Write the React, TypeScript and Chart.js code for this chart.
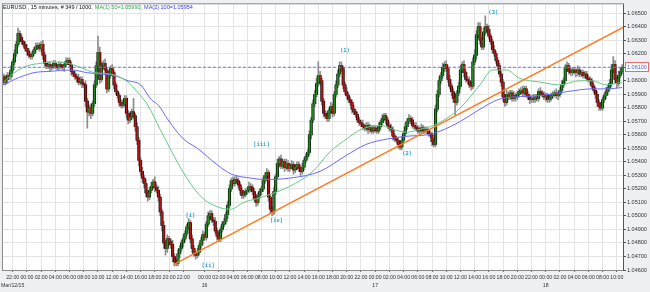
import React, { useEffect, useRef } from "react";
import { Chart, registerables } from "chart.js";

Chart.register(...registerables);

// Prices stored in pips above 1.0000 (e.g. 610 -> 1.0610)
const firstOpen = 603;
const closes = [
  599, 601, 604, 603, 608, 614, 620, 627, 635, 632,
  629, 627, 624, 622, 619, 618, 620, 623, 625, 626,
  624, 627, 619, 613, 611, 612, 610, 611, 613, 611,
  610, 612, 611, 610, 612, 614, 615, 612, 607, 605,
  603, 602, 599, 601, 598, 597, 585, 577, 580, 576,
  583, 597, 611, 621, 601, 611, 613, 608, 594, 604,
  609, 606, 597, 592, 589, 584, 582, 583, 587, 576,
  571, 573, 577, 574, 566, 556, 541, 533, 528, 524,
  517, 514, 519, 522, 525, 521, 519, 514, 503, 493,
  480, 476, 483, 481, 479, 470, 466, 465, 472, 476,
  480, 483, 487, 492, 495, 483, 476, 472, 471, 473,
  478, 482, 486, 484, 494, 500, 502, 497, 496, 489,
  485, 483, 490, 494, 496, 501, 508, 520, 526, 524,
  527, 526, 523, 519, 515, 516, 518, 519, 522, 521,
  518, 513, 510, 515, 518, 520, 526, 530, 532, 514,
  505, 503, 518, 529, 539, 542, 537, 540, 536, 539,
  535, 537, 538, 534, 536, 538, 535, 533, 536, 541,
  544, 547, 560, 571, 583, 590, 598, 604, 600, 585,
  576, 574, 572, 578, 581, 576, 590, 597, 605, 611,
  609, 597, 592, 589, 586, 584, 579, 577, 575, 571,
  569, 568, 566, 565, 567, 564, 565, 563, 565, 564,
  563, 566, 569, 572, 574, 571, 567, 565, 564, 559,
  557, 556, 553, 551, 556, 561, 566, 570, 572, 571,
  567, 566, 565, 563, 564, 565, 563, 564, 563, 561,
  560, 555, 553, 579, 590, 600, 604, 610, 612, 609,
  601, 596, 592, 587, 584, 591, 596, 608, 612, 606,
  601, 600, 597, 596, 614, 619, 634, 640, 630, 625,
  636, 640, 638, 633, 629, 623, 620, 615, 611, 605,
  599, 588, 584, 590, 588, 591, 587, 589, 588, 590,
  592, 593, 591, 594, 590, 588, 586, 587, 586, 588,
  587, 592, 591, 590, 588, 589, 586, 587, 589, 590,
  591, 589, 590, 593, 597, 600, 609, 611, 607, 606,
  608, 607, 606, 608, 605, 606, 604, 605, 602, 601,
  600, 596, 593, 590, 584, 581, 580, 586, 589, 592,
  595, 598, 608, 612, 601, 598, 604, 607, 610,
];
// wick length above the body, in pips
const wickUp = [
  2, 3, 2, 2, 3, 2, 3, 2, 4, 2,
  2, 1, 2, 3, 2, 1, 2, 2, 3, 2,
  2, 2, 3, 2, 1, 2, 2, 1, 2, 2,
  1, 2, 2, 1, 2, 3, 2, 2, 2, 1,
  2, 2, 3, 2, 2, 1, 3, 2, 2, 3,
  2, 3, 3, 12, 4, 3, 2, 3, 2, 3,
  2, 3, 2, 2, 1, 2, 2, 3, 2, 2,
  2, 4, 2, 10, 2, 3, 2, 2, 3, 2,
  3, 2, 2, 3, 2, 4, 2, 3, 2, 2,
  3, 2, 3, 2, 2, 3, 2, 2, 3, 2,
  2, 3, 2, 2, 3, 2, 3, 2, 2, 3,
  2, 2, 3, 2, 2, 3, 2, 2, 2, 3,
  2, 3, 2, 2, 2, 2, 3, 3, 2, 3,
  2, 3, 2, 2, 2, 3, 2, 2, 3, 2,
  2, 2, 3, 2, 2, 2, 3, 2, 3, 2,
  2, 2, 3, 2, 3, 2, 3, 2, 2, 3,
  2, 2, 3, 2, 2, 2, 2, 2, 3, 2,
  2, 2, 3, 2, 3, 3, 4, 10, 3, 2,
  2, 2, 3, 2, 3, 2, 2, 3, 3, 3,
  3, 2, 2, 3, 2, 2, 2, 3, 2, 2,
  2, 2, 3, 2, 2, 2, 3, 2, 2, 2,
  2, 3, 2, 3, 2, 2, 2, 2, 3, 2,
  2, 2, 2, 2, 3, 2, 3, 2, 3, 2,
  2, 2, 3, 2, 2, 3, 2, 2, 2, 2,
  2, 2, 2, 3, 3, 3, 2, 3, 2, 3,
  2, 3, 2, 2, 3, 2, 3, 3, 2, 3,
  2, 2, 3, 2, 3, 4, 3, 3, 3, 2,
  3, 8, 2, 3, 2, 2, 3, 2, 2, 2,
  2, 2, 2, 3, 2, 2, 2, 3, 2, 2,
  2, 2, 3, 2, 2, 2, 2, 2, 3, 2,
  2, 2, 3, 2, 2, 2, 2, 3, 2, 2,
  2, 3, 2, 2, 3, 2, 3, 3, 2, 2,
  2, 2, 2, 3, 2, 2, 2, 2, 2, 2,
  2, 2, 2, 2, 2, 2, 3, 2, 2, 3,
  2, 3, 4, 6, 3, 2, 3, 2, 2,
];
// wick length below the body, in pips
const wickDn = [
  2, 2, 3, 2, 2, 2, 2, 2, 2, 3,
  2, 2, 2, 3, 2, 2, 2, 1, 2, 2,
  2, 2, 3, 2, 2, 2, 3, 2, 2, 2,
  2, 2, 2, 2, 3, 2, 2, 2, 3, 2,
  2, 3, 2, 2, 3, 2, 4, 12, 3, 4,
  2, 2, 2, 2, 3, 2, 2, 3, 3, 2,
  2, 2, 3, 2, 2, 3, 2, 2, 2, 3,
  3, 2, 2, 2, 3, 3, 4, 3, 3, 3,
  3, 3, 2, 2, 2, 3, 2, 3, 3, 4,
  4, 5, 3, 3, 3, 4, 3, 2, 2, 3,
  2, 3, 2, 2, 2, 3, 3, 2, 3, 2,
  2, 2, 3, 2, 2, 2, 2, 2, 3, 2,
  3, 2, 2, 2, 2, 2, 3, 2, 2, 2,
  2, 2, 2, 3, 2, 2, 2, 2, 2, 3,
  2, 2, 3, 2, 2, 2, 2, 2, 2, 3,
  3, 3, 2, 2, 2, 3, 2, 2, 3, 2,
  2, 2, 2, 3, 2, 2, 2, 3, 2, 2,
  2, 2, 2, 3, 2, 2, 2, 2, 3, 3,
  3, 2, 2, 2, 2, 3, 2, 2, 2, 2,
  2, 3, 2, 2, 2, 2, 3, 2, 2, 2,
  2, 2, 2, 2, 2, 3, 2, 2, 2, 2,
  2, 2, 2, 2, 2, 3, 2, 2, 2, 3,
  2, 2, 3, 2, 2, 2, 2, 2, 2, 3,
  2, 2, 2, 2, 2, 3, 2, 2, 2, 2,
  2, 3, 2, 2, 2, 2, 2, 2, 3, 2,
  2, 2, 3, 3, 9, 2, 2, 2, 2, 3,
  2, 2, 2, 3, 2, 2, 3, 2, 3, 2,
  2, 2, 3, 2, 2, 2, 2, 2, 3, 2,
  3, 3, 3, 2, 2, 2, 2, 2, 3, 2,
  2, 2, 2, 3, 2, 2, 3, 2, 2, 2,
  2, 2, 2, 2, 2, 3, 2, 2, 2, 2,
  2, 2, 3, 2, 2, 2, 2, 2, 2, 2,
  2, 2, 3, 2, 2, 2, 2, 2, 2, 2,
  3, 2, 2, 3, 3, 3, 2, 2, 2, 2,
  2, 2, 2, 2, 3, 3, 2, 2, 2,
];

// Moving averages (bar index, pips)
const ma50Idx = [0, 6, 13, 21, 26, 36, 43, 51, 60, 70, 75, 81, 88, 96, 103, 112, 122, 128, 135, 143, 150, 161, 174, 184, 193, 201, 212, 219, 227, 234, 242, 249, 257, 268, 275, 283, 290, 302, 313, 324, 331, 339, 348];
const ma50Val = [599, 606, 611, 613, 614, 613, 610, 606, 605, 599, 592, 582, 564, 544, 528, 513, 506, 505, 510, 513, 516, 522, 533, 548, 557, 564, 567, 564, 562, 564, 567, 572, 580, 597, 608, 608, 602, 599, 597, 600, 600, 597, 599];
const ma100Idx = [0, 6, 17, 26, 38, 47, 54, 62, 70, 77, 83, 87, 92, 101, 109, 120, 128, 139, 146, 161, 178, 193, 204, 216, 227, 238, 246, 257, 268, 278, 287, 302, 317, 331, 339, 348];
const ma100Val = [597, 601, 606, 607, 608, 606, 605, 604, 600, 597, 586, 582, 572, 557, 550, 538, 531, 528, 527, 528, 533, 545, 553, 557, 559, 560, 563, 570, 579, 586, 588, 589, 592, 594, 594, 595];

// Trend line
const trendIdx = [95.5, 348.5];
const trendVal = [1.0464, 1.06395];
const refLevel = 1.061;

// Wave labels
const waveText = ["(3)", "(1)", "[iii]", "[i]", "[iv]", "[ii]", "(2)"];
const waveIdx = [275.5, 192, 145, 105, 153.5, 115, 227];
const wavePrice = [1.06505, 1.0622, 1.0553, 1.0500, 1.04965, 1.04635, 1.0546];

// Axis ticks
const tickIdx = [
  5, 13, 21, 29, 37, 45, 53, 61, 69, 77, 85, 93, 101,
  113, 121, 129, 137, 145, 153, 161, 169, 177, 185, 193, 201,
  209, 217, 225, 233, 241, 249, 257, 265, 273, 281, 289, 297,
  305, 313, 321, 329, 337, 345,
];
const tickTimes = [
  "22:00", "00:00", "02:00", "04:00", "06:00", "08:00", "10:00", "12:00", "14:00", "16:00", "18:00", "20:00", "22:00",
  "00:00", "02:00", "04:00", "06:00", "08:00", "10:00", "12:00", "14:00", "16:00", "18:00", "20:00", "22:00",
  "00:00", "02:00", "04:00", "06:00", "08:00", "10:00", "12:00", "14:00", "16:00", "18:00", "20:00", "22:00",
  "00:00", "02:00", "04:00", "06:00", "08:00", "10:00",
];
const dateTickIdx = [5, 113, 209, 305];
const dateTexts = ["Mar/12/15", "16", "17", "18"];
const yTicks = [1.046, 1.047, 1.048, 1.049, 1.05, 1.051, 1.052, 1.053, 1.054, 1.055, 1.056, 1.057, 1.058, 1.059, 1.06, 1.061, 1.062, 1.063, 1.064, 1.065];

const titleParts = ["EURUSD , 15 minutes, # 349 / 1000,", "MA(1) 50=1.05990,", "MA(2) 100=1.05954"];
const titleColors = ["#111111", "#2aa64e", "#3a3aff"];

const P = (v: number) => 1 + v / 10000;

export default function App() {
  const ref = useRef<HTMLCanvasElement | null>(null);

  useEffect(() => {
    document.body.style.margin = "0";
    const canvas = ref.current;
    if (!canvas) return;

    const opens = closes.map((c, i) => (i === 0 ? firstOpen : closes[i - 1]));
    const bodyData = closes.map((c, i) => {
      let lo = Math.min(opens[i], c);
      let hi = Math.max(opens[i], c);
      if (hi - lo < 0.4) { hi += 0.2; lo -= 0.2; }
      return { x: i, y: [P(lo), P(hi)] };
    });
    const wickData = closes.map((c, i) => ({
      x: i,
      y: [P(Math.min(opens[i], c) - wickDn[i]), P(Math.max(opens[i], c) + wickUp[i])],
    }));
    const bodyColors = closes.map((c, i) => (c >= opens[i] ? "#1f8a1f" : "#b41616"));

    const font = '"Liberation Sans", Arial, sans-serif';

    const decor = {
      id: "decor",
      beforeDraw(chart: any) {
        const { ctx, chartArea: a, width, height } = chart;
        ctx.save();
        ctx.fillStyle = "#eef0f3";
        ctx.fillRect(0, 0, width, height);
        ctx.fillStyle = "#ffffff";
        ctx.fillRect(a.left, a.top, a.right - a.left, a.bottom - a.top);
        ctx.restore();
      },
      afterDatasetsDraw(chart: any) {
        const { ctx } = chart;
        const xs = chart.scales.x;
        const ys = chart.scales.y;
        ctx.save();
        ctx.font = 'bold 5.5px "DejaVu Sans Mono", monospace';
        ctx.fillStyle = "#2a9fd6";
        ctx.textAlign = "center";
        ctx.textBaseline = "middle";
        waveText.forEach((t, i) => {
          ctx.fillText(t, xs.getPixelForValue(waveIdx[i]), ys.getPixelForValue(wavePrice[i]));
        });
        ctx.restore();
      },
      afterDraw(chart: any) {
        const { ctx, chartArea: a } = chart;
        const ys = chart.scales.y;
        ctx.save();
        ctx.strokeStyle = "#8a8a8a";
        ctx.lineWidth = 1;
        ctx.strokeRect(a.left - 0.5, a.top - 0.5, a.right - a.left + 1, a.bottom - a.top + 1);
        ctx.strokeStyle = "#555555";
        ctx.beginPath();
        ctx.moveTo(a.right + 0.5, a.top);
        ctx.lineTo(a.right + 0.5, a.bottom + 1);
        ctx.stroke();
        // title
        ctx.font = "5.5px " + font;
        ctx.textBaseline = "middle";
        ctx.textAlign = "left";
        let x = a.left;
        titleParts.forEach((p, i) => {
          ctx.fillStyle = titleColors[i];
          ctx.fillText(p, x, a.top + 3);
          x += ctx.measureText(p).width + 2;
        });
        // current price box
        const y = Math.round(ys.getPixelForValue(refLevel));
        ctx.fillStyle = "#ffffff";
        ctx.fillRect(a.right + 2, y - 4.5, 24, 9);
        ctx.strokeStyle = "#f06a6a";
        ctx.strokeRect(a.right + 2.5, y - 4.5, 23, 9);
        ctx.fillStyle = "#3f5fd8";
        ctx.font = "5.5px " + font;
        ctx.fillText(refLevel.toFixed(5), a.right + 4, y);
        ctx.restore();
      },
    };

    const chart = new Chart(canvas, {
      type: "bar",
      data: {
        datasets: [
          {
            type: "line",
            data: trendIdx.map((x, i) => ({ x, y: trendVal[i] })),
            borderColor: "#ff7a1e",
            borderWidth: 1.5,
            pointRadius: 0,
            order: 1,
          } as any,
          {
            type: "line",
            data: ma50Idx.map((x, i) => ({ x, y: P(ma50Val[i]) })),
            borderColor: "#66c98a",
            borderWidth: 1,
            pointRadius: 0,
            cubicInterpolationMode: "monotone",
            order: 2,
          },
          {
            type: "line",
            data: ma100Idx.map((x, i) => ({ x, y: P(ma100Val[i]) })),
            borderColor: "#6a6aff",
            borderWidth: 1,
            pointRadius: 0,
            cubicInterpolationMode: "monotone",
            order: 3,
          },
          {
            type: "line",
            data: [{ x: -0.5, y: refLevel }, { x: 348.5, y: refLevel }],
            borderColor: "#7272ff",
            borderWidth: 1,
            borderDash: [3, 2],
            pointRadius: 0,
            order: 4,
          },
          {
            type: "bar",
            data: bodyData,
            backgroundColor: bodyColors,
            barThickness: 1.2,
            grouped: false,
            borderWidth: 0,
            order: 10,
          },
          {
            type: "bar",
            data: bodyData,
            backgroundColor: "#000000",
            barThickness: 2.4,
            grouped: false,
            borderWidth: 0,
            order: 11,
          },
          {
            type: "bar",
            data: wickData,
            backgroundColor: "#8c8c8c",
            barThickness: 1,
            grouped: false,
            borderWidth: 0,
            order: 12,
          },
        ] as any,
      },
      options: {
        responsive: false,
        animation: false,
        devicePixelRatio: 1,
        events: [],
        layout: { padding: { left: 2, top: 1, right: 0, bottom: 0 } },
        plugins: { legend: { display: false }, tooltip: { enabled: false } },
        scales: {
          x: {
            type: "linear",
            min: -0.5,
            max: 348.5,
            offset: false,
            afterBuildTicks: (axis: any) => {
              axis.ticks = tickIdx.map((v) => ({ value: v }));
            },
            afterFit: (axis: any) => {
              axis.height = 22;
            },
            grid: { color: "#e4e4e4", lineWidth: 1, offset: false, drawTicks: true, tickLength: 2, tickColor: "#666666" },
            border: { display: true, color: "#666666" },
            ticks: {
              autoSkip: false,
              maxRotation: 0,
              minRotation: 0,
              padding: 1,
              color: "#333333",
              font: { family: font, size: 5.2, lineHeight: 1.6 },
              callback: (value: any) => {
                const k = tickIdx.indexOf(Number(value));
                if (k < 0) return "";
                const d = dateTickIdx.indexOf(Number(value));
                return d >= 0 ? [tickTimes[k], dateTexts[d]] : tickTimes[k];
              },
            },
          },
          y: {
            type: "linear",
            position: "right",
            min: 1.046,
            max: 1.06566,
            afterBuildTicks: (axis: any) => {
              axis.ticks = yTicks.map((v) => ({ value: v }));
            },
            afterFit: (axis: any) => {
              axis.width = 27;
            },
            grid: { color: "#e4e4e4", lineWidth: 1, drawTicks: true, tickLength: 3, tickColor: "#555555" },
            border: { display: true, color: "#555555" },
            ticks: {
              padding: 1,
              color: "#333333",
              font: { family: font, size: 5.5 },
              callback: (value: any) => Number(value).toFixed(5),
            },
          },
        },
      } as any,
      plugins: [decor],
    });

    return () => chart.destroy();
  }, []);

  return (
    <div style={{ width: 650, height: 292 }}>
      <canvas ref={ref} width={650} height={292} style={{ display: "block", width: 650, height: 292 }} />
    </div>
  );
}
